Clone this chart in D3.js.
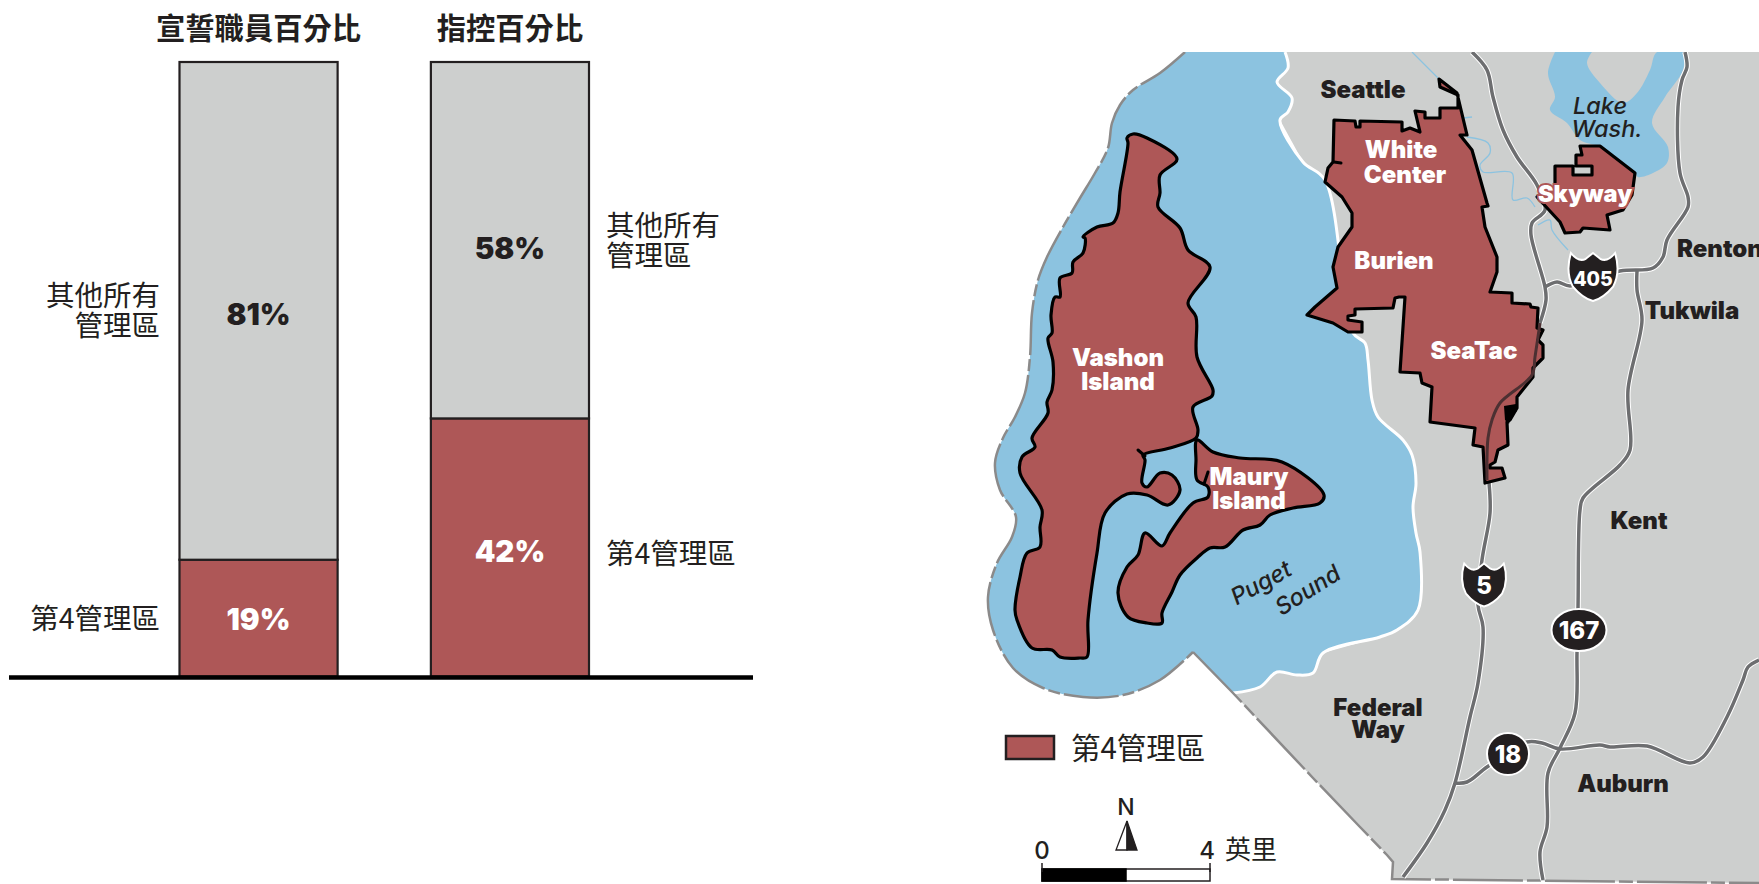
<!DOCTYPE html>
<html lang="zh-Hant">
  <head>
    <meta charset="utf-8" />
    <title>第4管理區</title>
    <script src="https://cdn.jsdelivr.net/npm/d3@7"></script>
    <style>
      body { margin: 0; background: #fff; }
      svg { display: block; }
      text { fill: #231f20; }
      .cjk { font-family: "Noto Sans CJK TC", sans-serif; }
      .latin { font-family: Inter, "Noto Sans", sans-serif; font-weight: 800; }
    </style>
  </head>
  <body>
    <script>
      // bars
      const metrics = ["宣誓職員百分比", "指控百分比"];
      const district4 = [19, 42];
      const otherDistricts = [81, 58];

      // map outlines
      const border = [[1185,52],[1160,73],[1133,90],[1120,105],[1112,123],[1108,148],[1095,173],[1080,198],[1063,227],[1047,257],[1038,280],[1032,313],[1030,357],[1025,393],[1015,417],[1003,438],[995,463],[1000,490],[1016,517],[1012,537],[997,563],[988,597],[993,630],[1013,668],[1043,688],[1083,697],[1123,695],[1160,680],[1193,652]];
      const borderSouth = [[1193,652],[1233,693],[1313,778],[1360,827],[1387,855],[1393,862],[1392,879],[1759,883]];
      const coast = [[1285,52],[1288,68],[1277,82],[1292,98],[1288,112],[1280,120],[1303,162],[1325,180],[1353,333],[1365,343],[1368,360],[1372,400],[1378,417],[1403,440],[1412,455],[1416,483],[1413,507],[1416,533],[1420,552],[1418,610],[1397,630],[1380,637],[1323,653],[1313,673],[1297,675],[1277,672],[1260,687],[1233,693]];
      const lakeWash = [[1555,52],[1548,73],[1555,97],[1550,110],[1567,123],[1580,140],[1600,147],[1635,173],[1638,177],[1653,173],[1667,163],[1668,147],[1652,123],[1665,97],[1683,70],[1683,52],[1657,52],[1650,70],[1637,93],[1623,103],[1600,83],[1587,63],[1592,52]];
      const vashon = [[1127,138],[1133,134],[1147,138],[1177,159],[1160,175],[1160,193],[1158,207],[1180,228],[1188,250],[1210,267],[1188,303],[1196,317],[1197,357],[1213,390],[1212,396],[1193,407],[1198,430],[1196,438],[1170,448],[1143,455],[1145,460],[1142,483],[1147,487],[1160,473],[1172,475],[1180,490],[1168,505],[1147,495],[1127,494],[1105,513],[1097,553],[1088,620],[1087,657],[1080,658],[1060,657],[1052,650],[1032,648],[1017,620],[1015,610],[1020,577],[1027,553],[1040,547],[1040,527],[1042,510],[1020,473],[1022,457],[1035,447],[1032,438],[1048,413],[1047,402],[1052,390],[1053,362],[1048,338],[1052,333],[1051,315],[1055,297],[1060,297],[1060,278],[1072,273],[1073,262],[1083,253],[1085,238],[1083,237],[1097,227],[1113,223],[1118,213],[1120,192],[1128,143]];
      const maury = [[1197,440],[1213,452],[1240,458],[1282,462],[1324,495],[1320,503],[1293,508],[1270,515],[1260,525],[1243,530],[1225,547],[1210,548],[1197,558],[1180,575],[1172,592],[1162,613],[1162,623],[1147,623],[1128,617],[1118,593],[1127,567],[1138,555],[1145,533],[1162,546],[1170,533],[1193,503],[1208,497],[1208,487],[1197,480],[1196,460]];
      const burien = [[1334,120],[1355,121],[1356,127],[1360,127],[1360,121],[1402,122],[1402,131],[1410,128],[1420,132],[1415,111],[1425,112],[1425,118],[1440,118],[1440,108],[1458,108],[1458,95],[1440,87],[1439,79],[1457,93],[1467,135],[1460,135],[1472,150],[1487,203],[1488,206],[1482,207],[1485,227],[1497,257],[1497,272],[1490,292],[1512,293],[1512,303],[1530,304],[1531,307],[1538,308],[1537,328],[1543,330],[1538,340],[1543,345],[1543,358],[1533,368],[1533,377],[1517,397],[1517,408],[1510,420],[1507,422],[1508,445],[1498,450],[1495,462],[1490,465],[1490,468],[1502,468],[1505,478],[1485,483],[1483,447],[1473,445],[1475,428],[1430,422],[1432,387],[1422,383],[1420,373],[1400,372],[1405,297],[1399,297],[1395,298],[1393,308],[1355,309],[1355,315],[1348,316],[1348,320],[1362,322],[1362,332],[1348,332],[1333,323],[1307,315],[1315,307],[1337,288],[1333,267],[1338,247],[1352,227],[1352,213],[1342,197],[1325,182],[1328,168],[1333,162],[1334,120]];
      const skyway = [[1580,146],[1600,146],[1635,173],[1632,195],[1623,210],[1607,215],[1610,230],[1583,228],[1580,232],[1565,233],[1560,222],[1537,197],[1555,187],[1555,166],[1573,166],[1573,175],[1592,175],[1592,166],[1576,166],[1576,155],[1582,155]];
      const seatacBlob = [[1504,406],[1516,404],[1517,411],[1511,416],[1509,424],[1505,420]];
      const harbourStubs = [[[1138,450],[1145,456]], [[1208,472],[1204,484]], [[1334,162],[1341,163]]];

      // roads
      const i405 = [[1472,52],[1487,70],[1493,97],[1503,130],[1517,157],[1537,185],[1545,210],[1532,223],[1531,235],[1545,287],[1546,300],[1540,323]];
      const i5North = [[1540,323],[1535,357],[1532,375],[1500,403],[1492,420],[1488,438],[1487,480]];
      const i5South = [[1489,483],[1490,513],[1482,560],[1478,605],[1483,627],[1478,683],[1470,717],[1455,783],[1445,810],[1427,843],[1403,877]];
      const link405 = [[1545,287],[1557,282],[1570,286],[1620,271],[1653,268],[1663,257],[1667,240],[1688,207],[1688,197],[1680,173],[1678,107],[1682,80],[1687,67],[1685,52]];
      const sr167 = [[1637,271],[1637,290],[1642,320],[1628,390],[1630,450],[1620,465],[1583,498],[1580,510],[1578,608],[1577,653],[1575,713],[1560,748],[1548,773],[1547,827],[1540,852],[1543,880]];
      const sr18 = [[1455,783],[1467,782],[1487,767],[1527,742],[1542,743],[1560,749],[1600,745],[1610,747],[1647,746],[1690,763],[1703,757],[1727,717],[1743,680],[1748,667],[1759,660]];
      const streams = [
        [[1412,52],[1438,78]],
        [[1467,137],[1488,143],[1490,153],[1480,165],[1483,172],[1512,173],[1513,200],[1527,198],[1535,207]],
        [[1538,225],[1550,220],[1552,230],[1568,250]],
        [[1463,118],[1472,117]]
      ];

      // labels
      const placeNames = ["Seattle", "White", "Center", "Burien", "SeaTac", "Vashon", "Island", "Maury", "Island", "Federal", "Way", "Renton", "Tukwila", "Kent", "Auburn"];
      const placeX = [1363, 1401, 1405, 1394, 1474, 1118, 1118, 1249, 1249, 1378, 1378, 1677, 1692, 1639, 1623];
      const placeY = [89, 149, 174, 260, 350, 357, 381, 476, 500, 707, 729, 248, 310, 520, 783];
      const placeWhite = [0, 1, 1, 1, 1, 1, 1, 1, 1, 0, 0, 0, 0, 0, 0];
      const shieldNames = ["405", "5"];
      const shieldPos = [[1593, 277], [1484, 585]];
      const shieldSize = [48, 43];
      const routeNames = ["167", "18"];
      const routePos = [[1579, 630], [1508, 754]];
      const routeRadius = [[27.5, 21], [21, 21]];
      const scaleMiles = [0, 4];

      const red = "#ae5757";
      const grey = "#cdcfce";
      const blue = "#8cc3e0";
      const ink = "#231f20";

      const svg = d3.select("body").append("svg").attr("width", 1759).attr("height", 884);

      // ---- stacked bars ----
      const x = d3.scaleBand().domain(metrics).range([179.5, 589]).paddingInner(0.371);
      const y = d3.scaleLinear().domain([0, 100]).range([676.5, 62]);

      const stack = d3.stack().keys(["district4", "other"]);
      const rows = metrics.map((m, i) => ({ metric: m, district4: district4[i], other: otherDistricts[i] }));
      const layers = stack(rows);

      const bars = svg.append("g");
      bars.selectAll("g")
        .data(layers)
        .join("g")
        .attr("fill", (d) => (d.key === "district4" ? red : grey))
        .selectAll("rect")
        .data((d) => d)
        .join("rect")
        .attr("x", (d) => x(d.data.metric))
        .attr("y", (d) => y(d[1]))
        .attr("width", x.bandwidth())
        .attr("height", (d) => y(d[0]) - y(d[1]))
        .attr("stroke", ink)
        .attr("stroke-width", 2.2);

      svg.append("line")
        .attr("x1", 9).attr("x2", 753)
        .attr("y1", y(0) + 1).attr("y2", y(0) + 1)
        .attr("stroke", "#000").attr("stroke-width", 4.5);

      svg.selectAll(".title")
        .data(metrics)
        .join("text")
        .attr("class", "cjk")
        .attr("x", (d) => x(d) + x.bandwidth() / 2)
        .attr("y", 39)
        .attr("text-anchor", "middle")
        .attr("font-size", 29.3)
        .attr("font-weight", 700)
        .text((d) => d);

      // the printed percentages are not quite centred in their segments
      const pctNudge = { district4: [1, 4], other: [3, 8] };
      layers.forEach((layer) => {
        svg.selectAll(null)
          .data(layer)
          .join("text")
          .attr("class", "latin")
          .attr("x", (d) => x(d.data.metric) + x.bandwidth() / 2)
          .attr("y", (d, i) => y((d[0] + d[1]) / 2) + 11 + pctNudge[layer.key][i])
          .attr("text-anchor", "middle")
          .attr("font-size", 29.5)
          .style("font-weight", 900)
          .style("fill", layer.key === "district4" ? "#fff" : ink)
          .text((d) => d[1] - d[0] + "%");
      });

      function sideLabel(lines, px, py, anchor) {
        const t = svg.append("text")
          .attr("class", "cjk")
          .attr("text-anchor", anchor)
          .attr("font-size", 28.5);
        lines.forEach((s, i) => {
          t.append("tspan").attr("x", px).attr("y", py + i * 30).text(s);
        });
      }
      sideLabel(["其他所有", "管理區"], 160, 306, "end");
      sideLabel(["第4管理區"], 160, 629, "end");
      sideLabel(["其他所有", "管理區"], 606, 236, "start");
      sideLabel(["第4管理區"], 606, 564, "start");

      // ---- map ----
      const mapX = d3.scaleIdentity();
      const mapY = d3.scaleIdentity();
      const straight = d3.line().x((d) => mapX(d[0])).y((d) => mapY(d[1]));
      const smooth = d3.line().x((d) => mapX(d[0])).y((d) => mapY(d[1])).curve(d3.curveCatmullRom.alpha(0.5));
      const smoothClosed = d3.line().x((d) => mapX(d[0])).y((d) => mapY(d[1])).curve(d3.curveCatmullRomClosed.alpha(0.5));

      svg.append("clipPath").attr("id", "mapClip")
        .append("rect").attr("x", 960).attr("y", 52).attr("width", 799).attr("height", 832);

      const map = svg.append("g").attr("clip-path", "url(#mapClip)");

      const land = [...coast, ...borderSouth.slice(1), [1759, 52]];
      const water = [...border, ...borderSouth.slice(0, 2), ...coast.slice().reverse()];

      map.append("path").attr("d", straight(land) + "Z").attr("fill", grey);
      map.append("path").attr("d", smooth(water) + "Z").attr("fill", blue);
      map.append("path").attr("d", smooth(lakeWash) + "Z").attr("fill", blue);
      map.append("path").attr("d", smooth(coast)).attr("fill", "none").attr("stroke", "#fff").attr("stroke-width", 3);
      map.selectAll(".stream")
        .data(streams)
        .join("path")
        .attr("d", smooth)
        .attr("fill", "none")
        .attr("stroke", blue)
        .attr("stroke-width", 1.3);

      const outer = map.append("g").attr("fill", "none").attr("stroke", "#8b8a8a").attr("stroke-width", 2.5);
      outer.append("path").attr("d", smooth(border)).attr("stroke-dasharray", "55 4 12 4");
      outer.append("path").attr("d", straight(borderSouth)).attr("stroke-dasharray", "70 4 14 4");

      // roads sit under the red areas except the I-5 bit which shows through
      const roads = [i405, i5South, link405, sr167, sr18];
      map.selectAll(".casing").data(roads).join("path")
        .attr("d", smooth).attr("fill", "none").attr("stroke", "#fff").attr("stroke-width", 5.5);
      map.selectAll(".road").data(roads).join("path")
        .attr("d", smooth).attr("fill", "none").attr("stroke", "#6d6e70").attr("stroke-width", 3.5);

      map.selectAll(".island").data([vashon, maury]).join("path")
        .attr("d", smoothClosed)
        .attr("fill", red)
        .attr("stroke", "#000")
        .attr("stroke-width", 3.2)
        .attr("stroke-linejoin", "round");
      map.selectAll(".district").data([burien, skyway]).join("path")
        .attr("d", (d) => straight(d) + "Z")
        .attr("fill", red)
        .attr("stroke", "#000")
        .attr("stroke-width", 3.2)
        .attr("stroke-linejoin", "round");
      map.append("path").attr("d", straight(seatacBlob) + "Z").attr("fill", "#000");
      map.selectAll(".stub").data(harbourStubs).join("path")
        .attr("d", straight).attr("fill", "none").attr("stroke", "#000").attr("stroke-width", 3).attr("stroke-linecap", "round");

      map.append("path").attr("d", smooth(i5North)).attr("fill", "none").attr("stroke", "#4c3032").attr("stroke-width", 3);

      // interstate shields
      const shieldPath = d3.path();
      shieldPath.moveTo(-0.46, -0.5);
      shieldPath.quadraticCurveTo(-0.3, -0.3, -0.15, -0.38);
      shieldPath.quadraticCurveTo(-0.05, -0.46, 0, -0.5);
      shieldPath.quadraticCurveTo(0.05, -0.46, 0.15, -0.38);
      shieldPath.quadraticCurveTo(0.3, -0.3, 0.46, -0.5);
      shieldPath.quadraticCurveTo(0.58, -0.1, 0.42, 0.2);
      shieldPath.quadraticCurveTo(0.22, 0.44, 0, 0.5);
      shieldPath.quadraticCurveTo(-0.22, 0.44, -0.42, 0.2);
      shieldPath.quadraticCurveTo(-0.58, -0.1, -0.46, -0.5);
      shieldPath.closePath();

      shieldNames.forEach((name, i) => {
        const g = map.append("g").attr("transform", `translate(${shieldPos[i][0]},${shieldPos[i][1]})`);
        g.append("path")
          .attr("d", shieldPath.toString())
          .attr("transform", `scale(${shieldSize[i]})`)
          .attr("fill", ink)
          .attr("stroke", "#fff")
          .attr("stroke-width", 2 / shieldSize[i]);
        g.append("text")
          .attr("class", "latin")
          .attr("y", 9)
          .attr("text-anchor", "middle")
          .attr("font-size", name.length > 1 ? 19.5 : 24)
          .style("fill", "#fff")
          .text(name);
      });

      routeNames.forEach((name, i) => {
        const g = map.append("g").attr("transform", `translate(${routePos[i][0]},${routePos[i][1]})`);
        g.append("ellipse")
          .attr("rx", routeRadius[i][0])
          .attr("ry", routeRadius[i][1])
          .attr("fill", ink)
          .attr("stroke", "#fff")
          .attr("stroke-width", 2);
        g.append("text")
          .attr("class", "latin")
          .attr("y", 9)
          .attr("text-anchor", "middle")
          .attr("font-size", 24)
          .style("fill", "#fff")
          .text(name);
      });

      // place names
      map.selectAll(".place")
        .data(placeNames)
        .join("text")
        .attr("class", "latin")
        .attr("x", (d, i) => placeX[i])
        .attr("y", (d, i) => placeY[i] + 9)
        .attr("text-anchor", (d, i) => (i === 11 ? "start" : "middle"))
        .attr("font-size", 24)
        .style("font-weight", 900)
        .style("fill", (d, i) => (placeWhite[i] ? "#fff" : ink))
        .text((d) => d);

      map.append("text")
        .attr("class", "latin")
        .attr("x", 1585).attr("y", 202)
        .attr("text-anchor", "middle")
        .attr("font-size", 23.5)
        .attr("stroke", red).attr("stroke-width", 4).attr("paint-order", "stroke")
        .style("font-weight", 900)
        .style("fill", "#fff")
        .text("Skyway");

      const waterLabels = [["Lake", 1600, 114, 0], ["Wash.", 1607, 137, 0], ["Puget", 1265, 590, -29], ["Sound", 1312, 597, -32]];
      map.selectAll(".waterName")
        .data(waterLabels)
        .join("text")
        .attr("transform", (d) => `translate(${d[1]},${d[2]}) rotate(${d[3]})`)
        .attr("text-anchor", "middle")
        .attr("font-family", "Inter, sans-serif")
        .attr("font-style", "italic")
        .attr("font-weight", 500)
        .attr("font-size", 23.5)
        .text((d) => d[0]);

      // legend
      svg.append("rect")
        .attr("x", 1006).attr("y", 736).attr("width", 48).attr("height", 23)
        .attr("fill", red).attr("stroke", ink).attr("stroke-width", 2.5);
      svg.append("text").attr("class", "cjk")
        .attr("x", 1071).attr("y", 759)
        .attr("font-size", 29.5)
        .text("第4管理區");

      // north arrow
      svg.append("text").attr("class", "latin")
        .attr("x", 1126).attr("y", 815)
        .attr("text-anchor", "middle").attr("font-size", 23).style("font-weight", 500)
        .text("N");
      const north = d3.line();
      svg.append("path").attr("d", north([[1127, 821], [1116, 850], [1127, 850]]) + "Z")
        .attr("fill", "#fff").attr("stroke", ink).attr("stroke-width", 1.3);
      svg.append("path").attr("d", north([[1127, 821], [1137, 850], [1127, 850]]) + "Z")
        .attr("fill", ink).attr("stroke", ink).attr("stroke-width", 1.3);

      // scale bar
      const miles = d3.scaleLinear().domain(scaleMiles).range([1042, 1210]);
      const scaleG = svg.append("g");
      scaleG.append("rect").attr("x", miles(0)).attr("y", 869).attr("width", miles(4) - miles(0)).attr("height", 12)
        .attr("fill", "#fff").attr("stroke", ink).attr("stroke-width", 1.5);
      scaleG.append("rect").attr("x", miles(0)).attr("y", 869).attr("width", miles(2) - miles(0)).attr("height", 12)
        .attr("fill", "#000").attr("stroke", "#000").attr("stroke-width", 1.5);
      scaleG.selectAll("line").data(scaleMiles).join("line")
        .attr("x1", miles).attr("x2", miles).attr("y1", 863).attr("y2", 872)
        .attr("stroke", ink).attr("stroke-width", 1.5);
      scaleG.selectAll("text").data(scaleMiles).join("text")
        .attr("class", "latin")
        .attr("x", (d) => miles(d) + (d ? -3 : 0))
        .attr("y", 859)
        .attr("text-anchor", "middle").attr("font-size", 24).style("font-weight", 500)
        .text((d) => d);
      svg.append("text").attr("class", "cjk")
        .attr("x", 1225).attr("y", 859).attr("font-size", 26)
        .text("英里");
    </script>
  </body>
</html>
